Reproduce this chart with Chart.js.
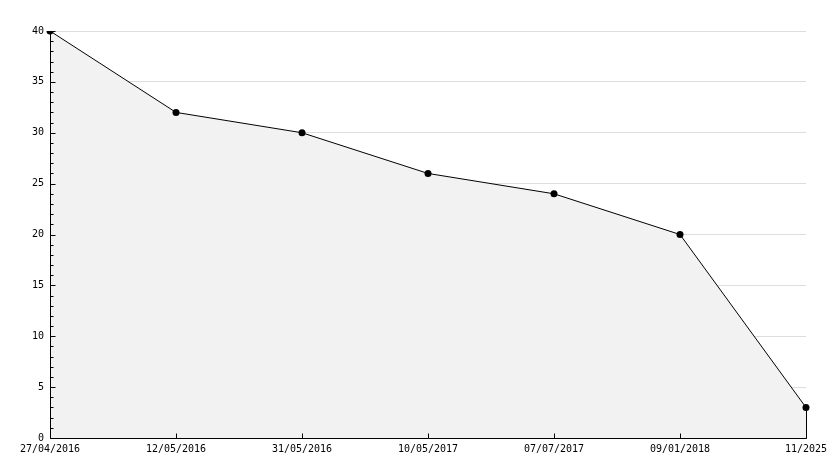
<!DOCTYPE html>
<html>
<head>
<meta charset="utf-8">
<script src="https://cdn.jsdelivr.net/npm/chart.js@4.4.1/dist/chart.umd.min.js"></script>
<style>
  html, body { margin: 0; padding: 0; background: #fff; }
  #wrap { width: 834px; height: 468px; }
</style>
</head>
<body>
<div id="wrap"><canvas id="chart" width="834" height="468"></canvas></div>
<script>
// data
const dates = ['27/04/2016', '12/05/2016', '31/05/2016', '10/05/2017', '07/07/2017', '09/01/2018', '11/2025'];
const values = [40, 32, 30, 26, 24, 20, 3];
const yMin = 0, yMax = 40, yStep = 5;

Chart.defaults.font.family = "'DejaVu Sans Mono', monospace";
Chart.defaults.font.size = 10;
Chart.defaults.color = '#000';

// axes drawn by hand: ticks point into the plot like the original
const axesPlugin = {
  id: 'inwardAxes',
  afterDatasetsDraw(chart) {
    const { ctx: c, scales: { x, y } } = chart;
    const left = Math.round(x.getPixelForValue(0)) + 0.5;
    const bottom = Math.round(y.getPixelForValue(yMin)) + 0.5;
    const top = Math.round(y.getPixelForValue(yMax)) + 0.5;
    const last = values.length - 1;
    const right = Math.round(x.getPixelForValue(last)) + 0.5;
    c.save();
    c.strokeStyle = '#000';
    c.lineWidth = 1;
    c.beginPath();
    // axis lines
    c.moveTo(left, top);
    c.lineTo(left, bottom);
    c.lineTo(right, bottom);
    // closing edge of the area
    c.lineTo(right, y.getPixelForValue(values[last]));
    for (let v = yMin; v <= yMax; v++) {
      const py = Math.round(y.getPixelForValue(v)) + 0.5;
      const len = v % yStep === 0 ? 5 : 3;
      c.moveTo(left, py);
      c.lineTo(left + len, py);
    }
    dates.forEach((_, i) => {
      const px = Math.round(x.getPixelForValue(i)) + 0.5;
      c.moveTo(px, bottom);
      c.lineTo(px, bottom - 5);
    });
    c.stroke();
    c.restore();
  }
};

new Chart(document.getElementById('chart'), {
  type: 'line',
  data: {
    labels: dates,
    datasets: [{
      data: values,
      borderColor: '#000',
      borderWidth: 1,
      backgroundColor: '#f2f2f2',
      fill: 'origin',
      tension: 0,
      pointRadius: 3.5,
      pointBackgroundColor: '#000',
      pointBorderColor: '#000',
      pointBorderWidth: 0,
      order: 0
    }]
  },
  plugins: [axesPlugin],
  options: {
    responsive: false,
    animation: false,
    layout: { padding: { top: 31, right: 28, left: 0, bottom: 0 } },
    plugins: { legend: { display: false }, tooltip: { enabled: false } },
    scales: {
      x: {
        offset: false,
        grid: { display: false, drawTicks: false },
        border: { display: false },
        ticks: { maxRotation: 0, autoSkip: false, padding: 5 },
        afterFit: (s) => { s.height = 30; }
      },
      y: {
        min: yMin,
        max: yMax,
        ticks: { stepSize: yStep, padding: 6 },
        grid: { color: '#dddddd', drawTicks: false, tickLength: 0 },
        border: { display: false },
        afterFit: (s) => { s.width = 50; }
      }
    }
  }
});
</script>
</body>
</html>
